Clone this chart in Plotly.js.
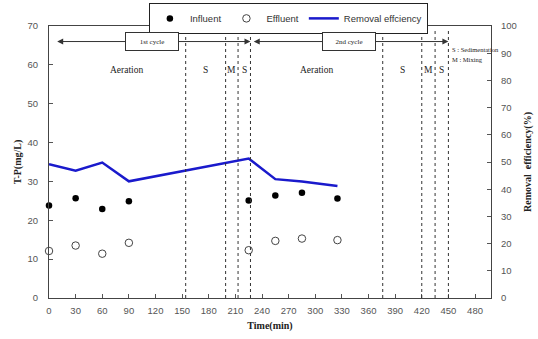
<!DOCTYPE html>
<html><head><meta charset="utf-8">
<script src="https://cdn.plot.ly/plotly-3.0.1.min.js"></script>
<style>html,body{margin:0;padding:0;background:#fff}#c{width:538px;height:339px}</style>
</head><body><div id="c"></div>
<script>
// ---- data ----
const timeMin = [0, 30, 60, 90, 225, 255, 285, 325];
const influent = [23.8, 25.7, 22.9, 24.9, 25.1, 26.4, 27.1, 25.6];
const effluent = [12.1, 13.5, 11.4, 14.2, 12.3, 14.7, 15.3, 14.9];
const removalEff = [49.2, 46.8, 49.8, 42.9, 51.3, 43.7, 42.8, 41.2];
const phaseBounds = [154, 199, 213, 227, 376, 420, 435, 450];
const phaseNames = ["Aeration", "S", "M", "S", "Aeration", "S", "M", "S"];
const cycleNames = ["1st cycle", "2nd cycle"];
const xTicks = [0, 30, 60, 90, 120, 150, 180, 210, 240, 270, 300, 330, 360, 390, 420, 450, 480];

const tickFont = {family: "Liberation Sans, Arial, sans-serif", size: 9.5, color: "#555"};
const titleFont = {family: "Liberation Serif, Times New Roman, serif", size: 10, color: "#222", weight: "bold"};
const smallSerif = {family: "Liberation Serif, Times New Roman, serif", size: 9.5, color: "#222"};

const traces = [
  {x: timeMin, y: removalEff, yaxis: "y2", type: "scatter", mode: "lines", name: "Removal effciency",
   line: {color: "#1a1acc", width: 2.5}},
  {x: timeMin, y: influent, type: "scatter", mode: "markers", name: "Influent", cliponaxis: false,
   marker: {color: "#000", size: 6.5, symbol: "circle"}},
  {x: timeMin, y: effluent, type: "scatter", mode: "markers", name: "Effluent", cliponaxis: false,
   marker: {color: "#444", size: 7.5, symbol: "circle-open", line: {width: 1}}}
];

const shapes = phaseBounds.map(b => ({
  type: "line", xref: "x", yref: "paper", x0: b, x1: b, y0: 0, y1: 0.99,
  line: {color: "#333", width: 1, dash: "dot"}
}));

const annotations = [];
let prev = 0;
phaseBounds.forEach((b, i) => {
  const start = (i === 4) ? phaseBounds[3] : prev;
  annotations.push({x: (start + b) / 2 + (i === 0 ? 10 : 0), y: 58.8, xref: "x", yref: "y", text: phaseNames[i],
    showarrow: false, font: smallSerif});
  prev = b;
});
const cycles = [[7.5, phaseBounds[3]], [phaseBounds[3] + 2, phaseBounds[7]]];
cycles.forEach((c, i) => {
  annotations.push({x: c[1], y: 66, ax: c[0], ay: 66, xref: "x", yref: "y", axref: "x", ayref: "y",
    showarrow: true, arrowhead: 2, startarrowhead: 2, arrowside: "end+start", arrowsize: 1.2, arrowwidth: 1, arrowcolor: "#333", text: ""});
  annotations.push({x: i === 0 ? 116.5 : 338, y: 66, xref: "x", yref: "y", text: cycleNames[i], showarrow: false,
    font: {family: smallSerif.family, size: 7, color: "#222"}, bgcolor: "#fff", bordercolor: "#333", borderwidth: 1,
    width: 50, height: 15});
});
annotations.push({x: 0.907, y: 0.935, xref: "paper", yref: "paper", xanchor: "left", text: "S : Sedimentation",
  showarrow: false, font: {family: smallSerif.family, size: 6.5, color: "#222"}});
annotations.push({x: 0.907, y: 0.898, xref: "paper", yref: "paper", xanchor: "left", text: "M : Mixing",
  showarrow: false, font: {family: smallSerif.family, size: 6.5, color: "#222"}});

const layout = {
  width: 538, height: 339,
  margin: {l: 49, r: 47, t: 26, b: 41, autoexpand: false},
  paper_bgcolor: "#fff", plot_bgcolor: "#fff",
  showlegend: true,
  legend: {orientation: "h", x: 0.226, y: 1.085, xanchor: "left", yanchor: "top",
    bgcolor: "#fff", bordercolor: "#222", borderwidth: 1, tracegroupgap: 0,
    font: {family: "Liberation Sans, Arial, sans-serif", size: 9.5, color: "#333"},
    traceorder: "normal", itemwidth: 30},
  xaxis: {range: [0, 498], tickvals: xTicks, ticks: "inside", ticklen: 4, tickcolor: "#555",
    showline: true, linecolor: "#444", linewidth: 1, mirror: true, showgrid: false, zeroline: false,
    tickfont: tickFont, ticklabelstandoff: 4,
    title: {text: "Time(min)", font: titleFont, standoff: 6}},
  yaxis: {range: [0, 70], dtick: 10, ticks: "inside", ticklen: 4, tickcolor: "#555",
    showline: true, linecolor: "#444", linewidth: 1, mirror: true, showgrid: false, zeroline: false,
    tickfont: tickFont, ticklabelstandoff: 8,
    title: {text: "T-P(mg/L)", font: titleFont, standoff: 4}},
  yaxis2: {range: [0, 100], dtick: 10, overlaying: "y", side: "right", ticks: "inside", ticklen: 4, tickcolor: "#555",
    showline: true, linecolor: "#444", linewidth: 1, showgrid: false, zeroline: false,
    tickfont: tickFont, ticklabelstandoff: 7,
    title: {text: "Removal  efficiency(%)", font: titleFont, standoff: 8}},
  shapes: shapes,
  annotations: annotations
};

Plotly.newPlot("c", [traces[1], traces[2], traces[0]], layout, {displayModeBar: false, staticPlot: true});
</script></body></html>
